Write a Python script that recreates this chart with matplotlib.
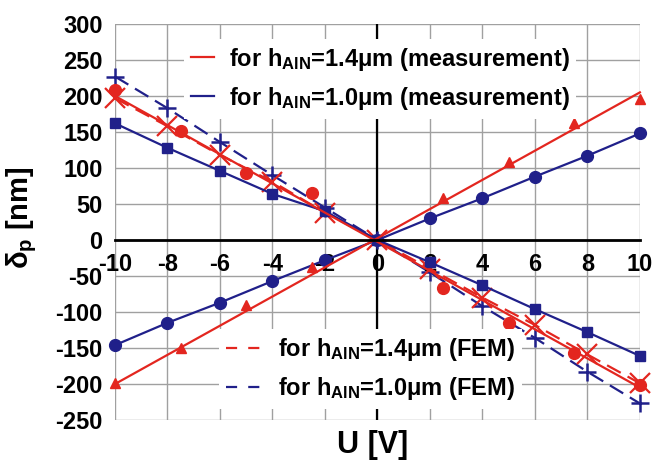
import matplotlib
matplotlib.use('Agg')
import matplotlib.pyplot as plt
from matplotlib.lines import Line2D

plt.rcParams['font.family'] = ['Liberation Sans', 'DejaVu Sans']
plt.rcParams['font.weight'] = 'bold'
plt.rcParams['axes.labelweight'] = 'bold'
plt.rcParams['mathtext.fontset'] = 'custom'
plt.rcParams['mathtext.rm'] = 'Liberation Sans:bold'
plt.rcParams['mathtext.it'] = 'Liberation Sans:bold'
plt.rcParams['mathtext.bf'] = 'Liberation Sans:bold'
plt.rcParams['mathtext.default'] = 'rm'
plt.rcParams['axes.unicode_minus'] = False

RED = '#e3261f'
BLUE = '#20208a'

# measured points (off-grid voltages)
u_meas = [-10, -7.5, -5, -2.5, 2.5, 5, 7.5, 10]
red_tri = [-198, -150, -90, -37, 58, 108, 162, 196]
red_circ = [209, 151, 93, 65, -67, -115, -157, -202]

# linear fits for h=1.4um measurement
u_fit = [-10, 10]
red_fit_pos = [-200, 205]
red_fit_neg = [200, -205]

# points on the 2 V grid
u_grid = [-10, -8, -6, -4, -2, 0, 2, 4, 6, 8, 10]
blue_circ = [-146, -115, -87, -57, -28, 0, 30, 58, 88, 117, 148]
blue_sq = [162, 128, 96, 64, 40, 0, -31, -63, -96, -128, -161]
red_fem = [197, 158, 118, 81, 38, 0, -40, -80, -118, -159, -199]
blue_fem = [227, 183, 136, 90, 45, 0, -45, -92, -136, -183, -227]

xticks = [-10, -8, -6, -4, -2, 0, 2, 4, 6, 8, 10]
yticks = [-250, -200, -150, -100, -50, 0, 50, 100, 150, 200, 250, 300]

fig = plt.figure(figsize=(6.52, 4.66), dpi=100)
ax = fig.add_axes([0.1764, 0.0987, 0.805, 0.8498])

ax.set_xlim(-10, 10)
ax.set_ylim(-250, 300)
ax.set_xticks(xticks)
ax.set_yticks(yticks)
ax.grid(True, color='#a0a0a0', linewidth=1.0)
ax.set_axisbelow(True)

for s in ['top', 'right', 'left']:
    ax.spines[s].set_visible(False)
ax.spines['bottom'].set_position(('data', 0))
ax.spines['bottom'].set_linewidth(2.0)
ax.axvline(0, color='black', linewidth=1.6, zorder=1.5)

ax.tick_params(axis='both', length=0, labelsize=17)
ax.tick_params(axis='x', pad=9)
ax.tick_params(axis='y', pad=9)

dash = (0, (7, 3.5))

# FEM curves
ax.plot(u_grid, blue_fem, color=BLUE, linestyle=dash, linewidth=1.6,
        marker='+', markersize=13, markeredgewidth=1.8, clip_on=False)
ax.plot(u_grid, red_fem, color=RED, linestyle=dash, linewidth=1.6,
        marker='x', markersize=15, markeredgewidth=1.6, clip_on=False)

# measurement, h=1.0um
ax.plot(u_grid, blue_sq, color=BLUE, linewidth=1.6,
        marker='s', markersize=6.5, clip_on=False)
ax.plot(u_grid, blue_circ, color=BLUE, linewidth=1.6,
        marker='o', markersize=8.5, clip_on=False)

# measurement, h=1.4um
ax.plot(u_fit, red_fit_pos, color=RED, linewidth=1.6, clip_on=False)
ax.plot(u_fit, red_fit_neg, color=RED, linewidth=1.6, clip_on=False)
ax.plot(u_meas, red_tri, color=RED, linestyle='none', marker='^',
        markersize=7, clip_on=False)
ax.plot(u_meas, red_circ, color=RED, linestyle='none', marker='o',
        markersize=8.5, clip_on=False)

ax.set_xlabel('U [V]', fontsize=22, fontweight='bold')
ax.xaxis.set_label_coords(0.49, -0.025)
ax.set_ylabel('δ$_{p}$ [nm]', fontsize=21, fontweight='bold')
ax.yaxis.set_label_coords(-0.145, 0.51)

top_handles = [Line2D([], [], color=RED, linewidth=1.6),
               Line2D([], [], color=BLUE, linewidth=1.6)]
top_labels = ['for h$_{AlN}$=1.4μm (measurement)',
              'for h$_{AlN}$=1.0μm (measurement)']
leg1 = ax.legend(top_handles, top_labels, loc='center',
                 bbox_to_anchor=(0.505, 0.862), fontsize=17,
                 frameon=True, facecolor='white', edgecolor='none',
                 framealpha=1, fancybox=False, handlelength=1.0,
                 handletextpad=0.6, labelspacing=0.5, borderpad=0.3)
ax.add_artist(leg1)

bot_handles = [Line2D([], [], color=RED, linewidth=1.6, linestyle=(0, (5, 5))),
               Line2D([], [], color=BLUE, linewidth=1.6, linestyle=(0, (5, 5)))]
bot_labels = ['for h$_{AlN}$=1.4μm (FEM)',
              'for h$_{AlN}$=1.0μm (FEM)']
ax.legend(bot_handles, bot_labels, loc='center',
          bbox_to_anchor=(0.487, 0.128), fontsize=17,
          frameon=True, facecolor='white', edgecolor='none',
          framealpha=1, fancybox=False, handlelength=1.6,
          handletextpad=0.6, labelspacing=0.5, borderpad=0.3)

fig.savefig('out.png', dpi=100)
